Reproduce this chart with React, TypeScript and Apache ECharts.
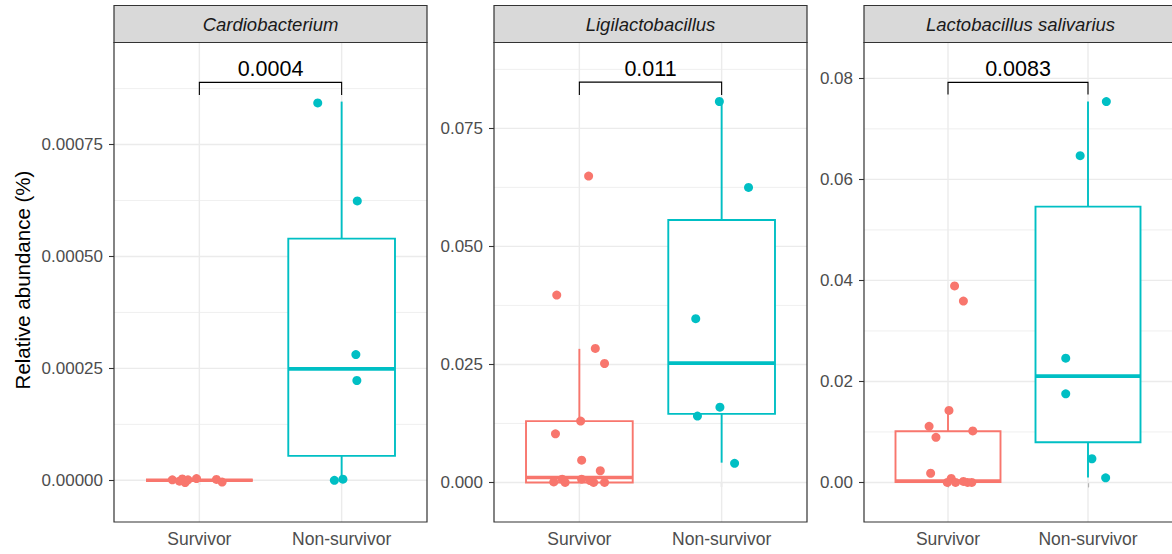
import React, { useEffect, useRef } from "react";
import * as echarts from "echarts";

// ---------------- data ----------------
const groups = ["Survivor", "Non-survivor"];
const taxa = ["Cardiobacterium", "Ligilactobacillus", "Lactobacillus salivarius"];
const pValues = ["0.0004", "0.011", "0.0083"];
const groupColors = ["#F8766D", "#00BFC4"];

// y-axis extents per panel (free scales)
const yMins = [-0.0000931, -0.00838, -0.00783];
const yMaxs = [0.000978, 0.0932, 0.0871];
const yMajor = [
  [0, 0.00025, 0.0005, 0.00075],
  [0, 0.025, 0.05, 0.075],
  [0, 0.02, 0.04, 0.06, 0.08],
];
const yMinor = [
  [0.000125, 0.000375, 0.000625, 0.000875],
  [0.0125, 0.0375, 0.0625, 0.0875],
  [0.01, 0.03, 0.05, 0.07],
];
const yDecimals = [5, 3, 2];
const xCategoryPositions = [1, 2];

// box stats: [low whisker, Q1, median, Q3, high whisker] for Survivor, Non-survivor
const cardioBoxes = [
  [0, 0, 0, 0, 0],
  [0, 0.0000545, 0.000249, 0.00054, 0.000846],
];
const ligiBoxes = [
  [0, 0, 0.00106, 0.013, 0.0283],
  [0.00419, 0.01452, 0.02528, 0.0556, 0.0807],
];
const salivBoxes = [
  [0, 0.0001, 0.0003, 0.01015, 0.0144],
  [0.001, 0.00797, 0.02105, 0.0546, 0.0754],
];

// jittered points: [x position, relative abundance]
const cardioSurvivor = [
  [0.81, 0.000001], [0.86, -0.000002], [0.88, 0.000003], [0.9, -0.000005],
  [0.92, 0.000001], [0.98, 0.000004], [1.12, 0.000002], [1.16, -0.000004],
];
const cardioNonSurvivor = [
  [1.832, 0.000843], [2.11, 0.000624], [2.1, 0.000281], [2.107, 0.000223],
  [1.949, 0.0], [2.009, 0.0000025],
];
const ligiSurvivor = [
  [1.065, 0.0649], [0.841, 0.0397], [1.112, 0.0284], [1.177, 0.0252],
  [1.009, 0.013], [0.832, 0.0103], [1.016, 0.00472], [1.147, 0.00248],
  [0.82, 0.0001], [0.879, 0.0007], [0.9, 0.0], [1.016, 0.0007],
  [1.075, 0.0004], [1.1, 0.0], [1.177, 0.0],
];
const ligiNonSurvivor = [
  [1.984, 0.0807], [2.189, 0.0625], [1.818, 0.0347], [1.988, 0.01594],
  [1.83, 0.01406], [2.091, 0.00404],
];
const salivSurvivor = [
  [1.047, 0.0389], [1.11, 0.0359], [1.007, 0.01426], [0.865, 0.01112],
  [1.177, 0.01021], [0.914, 0.00894], [0.876, 0.00182],
  [0.995, 0.0], [1.023, 0.0008], [1.054, 0.0], [1.11, 0.0002],
  [1.14, 0.0], [1.17, 0.0],
];
const salivNonSurvivor = [
  [2.131, 0.0754], [1.944, 0.0647], [1.841, 0.0246], [1.841, 0.01755],
  [2.028, 0.00469], [2.126, 0.00091],
];

// significance brackets: [top, bottom of end ticks]
const brackets = [
  [0.000889, 0.000861],
  [0.0848, 0.0821],
  [0.0792, 0.0768],
];

const panelBoxes = [cardioBoxes, ligiBoxes, salivBoxes];
const panelPoints = [
  [cardioSurvivor, cardioNonSurvivor],
  [ligiSurvivor, ligiNonSurvivor],
  [salivSurvivor, salivNonSurvivor],
];

// ---------------- layout ----------------
const FONT = "'Liberation Sans', Arial, Helvetica, sans-serif";
const panelLefts = [114, 494, 864];
const panelWidth = 313;
const panelTop = 42.5;
const panelHeight = 479.5;
const stripTop = 5.5;
const stripHeight = 37;

function buildOption() {
  const grid: any[] = [];
  const xAxis: any[] = [];
  const yAxis: any[] = [];
  const series: any[] = [];
  const graphic: any[] = [];

  for (let i = 0; i < 3; i++) {
    grid.push({
      left: panelLefts[i],
      top: panelTop,
      width: panelWidth,
      height: panelHeight,
      show: false,
    });
    xAxis.push({
      type: "value",
      gridIndex: i,
      min: 0.4,
      max: 2.6,
      axisLine: { show: false },
      splitLine: { show: false },
      axisTick: {
        show: true,
        customValues: xCategoryPositions,
        length: 5,
        lineStyle: { color: "#333333", width: 1.1 },
      },
      axisLabel: {
        customValues: xCategoryPositions,
        formatter: (v: number) => groups[Math.round(v) - 1] || "",
        color: "#4D4D4D",
        fontSize: 17.5,
        fontFamily: FONT,
        margin: 8,
      },
    });
    yAxis.push({
      type: "value",
      gridIndex: i,
      min: yMins[i],
      max: yMaxs[i],
      axisLine: { show: false },
      splitLine: { show: false },
      axisTick: {
        show: true,
        customValues: yMajor[i],
        length: 5,
        lineStyle: { color: "#333333", width: 1.1 },
      },
      axisLabel: {
        customValues: yMajor[i],
        formatter: (v: number) => v.toFixed(yDecimals[i]),
        color: "#4D4D4D",
        fontSize: 17,
        fontFamily: FONT,
        margin: 11,
      },
    });

    // grid lines
    const gridData: number[][] = [];
    yMajor[i].forEach((v) => gridData.push([0, v]));
    yMinor[i].forEach((v) => gridData.push([1, v]));
    xCategoryPositions.forEach((v) => gridData.push([2, v]));
    series.push({
      type: "custom",
      xAxisIndex: i,
      yAxisIndex: i,
      z: 1,
      silent: true,
      data: gridData,
      renderItem: (params: any, api: any) => {
        const cs = params.coordSys;
        const kind = api.value(0);
        const v = api.value(1);
        if (kind === 2) {
          const px = api.coord([v, 0])[0];
          return {
            type: "line",
            shape: { x1: px, y1: cs.y, x2: px, y2: cs.y + cs.height },
            style: { stroke: "#EBEBEB", lineWidth: 1.4 },
          };
        }
        const py = api.coord([1, v])[1];
        return {
          type: "line",
          shape: { x1: cs.x, y1: py, x2: cs.x + cs.width, y2: py },
          style: { stroke: "#EBEBEB", lineWidth: kind === 0 ? 1.4 : 0.8 },
        };
      },
    });

    // boxes
    series.push({
      type: "custom",
      xAxisIndex: i,
      yAxisIndex: i,
      z: 2,
      silent: true,
      encode: { x: 0, y: [1, 2, 3, 4, 5] },
      data: panelBoxes[i].map((b, g) => [xCategoryPositions[g], ...b]),
      renderItem: (params: any, api: any) => {
        const x = api.value(0);
        const color = groupColors[params.dataIndex];
        const half = api.size([0.75, 0])[0] / 2;
        const cx = api.coord([x, 0])[0];
        const yLo = api.coord([x, api.value(1)])[1];
        const yQ1 = api.coord([x, api.value(2)])[1];
        const yMed = api.coord([x, api.value(3)])[1];
        const yQ3 = api.coord([x, api.value(4)])[1];
        const yHi = api.coord([x, api.value(5)])[1];
        const lw = 1.9;
        return {
          type: "group",
          children: [
            { type: "line", shape: { x1: cx, y1: yHi, x2: cx, y2: yQ3 }, style: { stroke: color, lineWidth: lw } },
            { type: "line", shape: { x1: cx, y1: yQ1, x2: cx, y2: yLo }, style: { stroke: color, lineWidth: lw } },
            {
              type: "rect",
              shape: { x: cx - half, y: yQ3, width: 2 * half, height: Math.max(yQ1 - yQ3, 0) },
              style: { fill: "#FFFFFF", stroke: color, lineWidth: lw },
            },
            {
              type: "line",
              shape: { x1: cx - half, y1: yMed, x2: cx + half, y2: yMed },
              style: { stroke: color, lineWidth: 3.6 },
            },
          ],
        };
      },
    });

    // points
    for (let g = 0; g < 2; g++) {
      series.push({
        type: "scatter",
        xAxisIndex: i,
        yAxisIndex: i,
        z: 3,
        silent: true,
        symbol: "circle",
        symbolSize: 9,
        itemStyle: { color: groupColors[g], opacity: 1 },
        data: panelPoints[i][g],
      });
    }

    // bracket + p value
    const pv = pValues[i];
    series.push({
      type: "custom",
      xAxisIndex: i,
      yAxisIndex: i,
      z: 4,
      silent: true,
      data: [[xCategoryPositions[0], xCategoryPositions[1], brackets[i][0], brackets[i][1]]],
      renderItem: (params: any, api: any) => {
        const x1 = api.value(0);
        const x2 = api.value(1);
        const top = api.value(2);
        const bot = api.value(3);
        const a = api.coord([x1, bot]);
        const b = api.coord([x1, top]);
        const c = api.coord([x2, top]);
        const d = api.coord([x2, bot]);
        return {
          type: "group",
          children: [
            {
              type: "polyline",
              shape: { points: [a, b, c, d] },
              style: { stroke: "#000000", lineWidth: 1.1, fill: "none" },
            },
            {
              type: "text",
              x: (b[0] + c[0]) / 2,
              y: b[1] - 13,
              style: {
                text: pv,
                fontSize: 21.5,
                fontFamily: FONT,
                fill: "#000000",
                align: "center",
                verticalAlign: "middle",
              },
            },
          ],
        };
      },
    });

    // strip
    graphic.push({
      type: "rect",
      silent: true,
      shape: { x: panelLefts[i], y: stripTop, width: panelWidth, height: stripHeight },
      style: { fill: "#D9D9D9", stroke: "#333333", lineWidth: 1.2 },
      z: 50,
    });
    graphic.push({
      type: "text",
      silent: true,
      x: panelLefts[i] + panelWidth / 2,
      y: stripTop + stripHeight / 2,
      style: {
        text: taxa[i],
        fontSize: 18.5,
        fontStyle: "italic",
        fontFamily: FONT,
        fill: "#1A1A1A",
        align: "center",
        verticalAlign: "middle",
      },
      z: 51,
    });
    // panel border
    graphic.push({
      type: "rect",
      silent: true,
      shape: { x: panelLefts[i], y: panelTop, width: panelWidth, height: panelHeight },
      style: { fill: "transparent", stroke: "#333333", lineWidth: 1.2 },
      z: 100,
    });
  }

  graphic.push({
    type: "text",
    silent: true,
    x: 22,
    y: 280,
    rotation: Math.PI / 2,
    style: {
      text: "Relative abundance (%)",
      fontSize: 20.5,
      fontFamily: FONT,
      fill: "#000000",
      align: "center",
      verticalAlign: "middle",
    },
  });

  return {
    animation: false,
    backgroundColor: "#FFFFFF",
    textStyle: { fontFamily: FONT },
    grid,
    xAxis,
    yAxis,
    series,
    graphic,
  };
}

export default function App() {
  const ref = useRef<HTMLDivElement>(null);
  useEffect(() => {
    if (!ref.current) return;
    const chart = echarts.init(ref.current, undefined, { renderer: "svg" });
    chart.setOption(buildOption() as any);
    return () => chart.dispose();
  }, []);
  return (
    <div
      ref={ref}
      style={{ position: "fixed", left: 0, top: 0, width: 1172, height: 554, background: "#fff" }}
    />
  );
}
